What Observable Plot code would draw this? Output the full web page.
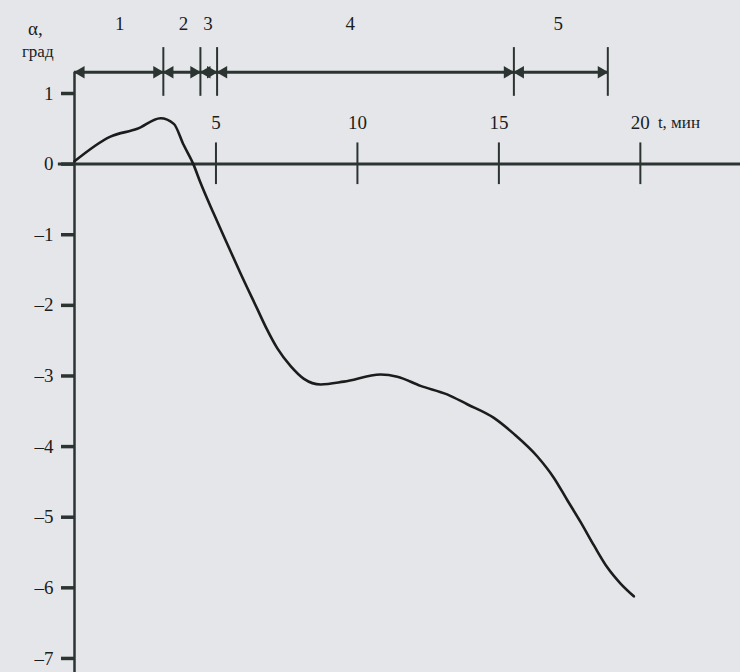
<!DOCTYPE html>
<html><head><meta charset="utf-8">
<script src="https://cdn.jsdelivr.net/npm/d3@7"></script>
<script src="https://cdn.jsdelivr.net/npm/@observablehq/plot@0.6"></script>
<style>
body{margin:0;background:#e5e6ea;}
#chart svg{display:block;background:#e5e6ea;}
</style>
</head><body><div id="chart"></div>
<script>
// Time, min
const timeMin = [0, 1.27, 2.22, 3.04, 3.51, 3.86, 4.20, 4.45, 4.92, 5.40, 5.87, 6.46, 6.79, 7.17, 7.64, 8.11, 8.70, 9.52, 10.82, 11.41, 12.23, 13.17, 13.88, 14.81, 15.53, 16.36, 16.94, 17.42, 17.89, 18.36, 18.83, 19.30, 19.77];
// Angle alpha, degrees
const alphaDeg = [0.04, 0.39, 0.50, 0.65, 0.57, 0.27, 0.0, -0.26, -0.70, -1.13, -1.55, -2.05, -2.33, -2.61, -2.86, -3.04, -3.12, -3.08, -2.98, -3.01, -3.14, -3.26, -3.40, -3.59, -3.82, -4.14, -4.44, -4.76, -5.07, -5.40, -5.71, -5.94, -6.12];
// Stages
const stageNames = ["1", "2", "3", "4", "5"];
const stageBounds = [0, 3.14, 4.45, 5.04, 15.53, 18.85];
const stageLabelAt = [1.6, 3.85, 4.72, 9.75, 17.1];
// Ticks
const xTicks = [5, 10, 15, 20];
const yTicks = [1, 0, -1, -2, -3, -4, -5, -6, -7];

const curve = timeMin.map((t, i) => ({t, a: alphaDeg[i]}));
const stages = stageNames.map((name, i) => ({name, start: stageBounds[i], end: stageBounds[i + 1], at: stageLabelAt[i]}));

const ink = "#1b1d1c";
const axisInk = "#2c3431";
const font = "Liberation Serif, Times New Roman, serif";
const stageY = 1.30;

const chart = Plot.plot({
  width: 740,
  height: 672,
  marginLeft: 74,
  marginRight: 0,
  marginTop: 0,
  marginBottom: 0,
  style: {fontFamily: font, fontSize: "19px", color: ink, background: "#e5e6ea", overflow: "visible"},
  x: {domain: [0, 23.54], axis: null},
  y: {domain: [-7.199, 2.317], axis: null},
  marks: [
    // y axis ticks and labels
    Plot.axisY(yTicks, {anchor: "left", tickSize: 13, tickPadding: 8, strokeWidth: 3.5, stroke: axisInk, fontSize: 19, fontFamily: font, fill: ink, label: null, tickFormat: d => (d < 0 ? "\u2013" + Math.abs(d) : String(d))}),
    // axis lines
    Plot.ruleY([0], {x1: -0.57, x2: 23.54, stroke: axisInk, strokeWidth: 3}),
    Plot.ruleX([0], {y1: stageY, y2: -7.199, stroke: axisInk, strokeWidth: 2.5}),
    // x ticks crossing axis
    Plot.ruleX(xTicks, {y1: 0.30, y2: -0.29, stroke: axisInk, strokeWidth: 2}),
    Plot.text(xTicks, {x: d => d, y: 0.59, text: d => String(d), fill: ink, fontSize: 19}),
    Plot.text(["t, мин"], {x: 20.62, y: 0.59, text: d => d, textAnchor: "start", fill: ink, fontSize: 17}),
    // y label
    Plot.text(["α,"], {x: -1.38, y: 1.92, text: d => d, fill: ink, fontSize: 19}),
    Plot.text(["град"], {x: -1.30, y: 1.60, text: d => d, fill: ink, fontSize: 17}),
    // stage arrows
    Plot.ruleY([stageY], {x1: stageBounds[0], x2: stageBounds[stageBounds.length - 1], stroke: axisInk, strokeWidth: 3}),
    Plot.ruleX(stageBounds.slice(1), {y1: 0.96, y2: 1.65, stroke: axisInk, strokeWidth: 2}),
    Plot.dot(stages, {x: "start", y: stageY, symbol: "triangle", r: 4.6, rotate: -90, dx: 6.5, fill: axisInk, stroke: "none"}),
    Plot.dot(stages, {x: "end", y: stageY, symbol: "triangle", r: 4.6, rotate: 90, dx: -6.5, fill: axisInk, stroke: "none"}),
    Plot.text(stages, {x: "at", y: 1.98, text: "name", fill: ink, fontSize: 19}),
    // curve
    Plot.line(curve, {x: "t", y: "a", curve: "monotone-x", stroke: ink, strokeWidth: 2.6})
  ]
});
document.getElementById("chart").appendChild(chart);
</script>
</body></html>
